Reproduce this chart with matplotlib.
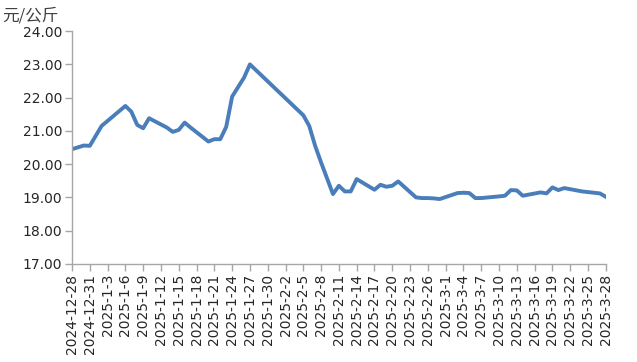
import matplotlib
matplotlib.use("Agg")
import matplotlib.pyplot as plt
import matplotlib.dates as mdates
import pandas as pd

plt.rcParams['font.family'] = ['DejaVu Sans', 'Noto Sans CJK SC']

dates = [
    "2024-12-28", "2024-12-30", "2024-12-31", "2025-01-02", "2025-01-03",
    "2025-01-06", "2025-01-07", "2025-01-08", "2025-01-09", "2025-01-10",
    "2025-01-13", "2025-01-14", "2025-01-15", "2025-01-16", "2025-01-17",
    "2025-01-20", "2025-01-21", "2025-01-22", "2025-01-23", "2025-01-24",
    "2025-01-26", "2025-01-27",
    "2025-02-05", "2025-02-06", "2025-02-07", "2025-02-08",
    "2025-02-10", "2025-02-11", "2025-02-12", "2025-02-13", "2025-02-14",
    "2025-02-17", "2025-02-18", "2025-02-19", "2025-02-20", "2025-02-21",
    "2025-02-24", "2025-02-25", "2025-02-26", "2025-02-27", "2025-02-28",
    "2025-03-03", "2025-03-04", "2025-03-05", "2025-03-06", "2025-03-07",
    "2025-03-10", "2025-03-11", "2025-03-12", "2025-03-13", "2025-03-14",
    "2025-03-17", "2025-03-18", "2025-03-19", "2025-03-20", "2025-03-21",
    "2025-03-24", "2025-03-25", "2025-03-26", "2025-03-27", "2025-03-28",
]
prices = [
    20.45, 20.56, 20.55, 21.15, 21.30,
    21.75, 21.58, 21.18, 21.08, 21.38,
    21.10, 20.97, 21.03, 21.25, 21.10,
    20.68, 20.75, 20.75, 21.12, 22.03,
    22.60, 23.00,
    21.47, 21.15, 20.55, 20.05,
    19.10, 19.35, 19.18, 19.18, 19.55,
    19.23, 19.38, 19.32, 19.35, 19.48,
    19.00, 18.98, 18.98, 18.97, 18.95,
    19.13, 19.14, 19.13, 18.98, 18.98,
    19.03, 19.05, 19.22, 19.21, 19.05,
    19.15, 19.12, 19.30, 19.22, 19.28,
    19.18, 19.16, 19.14, 19.12, 19.02,
]
y_ticks = [17, 18, 19, 20, 21, 22, 23, 24]
unit_label = "元/公斤"

x = pd.to_datetime(dates)
tick_dates = pd.date_range("2024-12-28", "2025-03-28", freq="3D")
tick_labels = [f"{d.year}-{d.month}-{d.day}" for d in tick_dates]

fig = plt.figure(figsize=(6.37, 3.62), dpi=100)
ax = fig.add_axes([0.113, 0.271, 0.838, 0.643])
ax.plot(x, prices, color="#4A7EBB", linewidth=2.8, solid_joinstyle="round")

ax.set_ylim(17, 24)
ax.set_yticks(y_ticks)
ax.set_yticklabels([f"{v:.2f}" for v in y_ticks])
ax.set_xlim(tick_dates[0], tick_dates[-1])
ax.set_xticks(tick_dates)
ax.set_xticklabels(tick_labels, rotation=90)

for s in ["top", "right"]:
    ax.spines[s].set_visible(False)
for s in ["left", "bottom"]:
    ax.spines[s].set_color("#A6A6A6")
    ax.spines[s].set_linewidth(1.0)
ax.tick_params(axis="both", colors="#A6A6A6", labelcolor="#262626", labelsize=10,
               length=5, width=1.0)
ax.tick_params(axis="x", pad=2)
ax.tick_params(axis="y", pad=2)

fig.text(0.004, 0.98, unit_label, fontsize=12, color="#404040",
         family=['Noto Sans CJK SC', 'DejaVu Sans'], va="top", ha="left")

fig.savefig("out.png", dpi=100)
